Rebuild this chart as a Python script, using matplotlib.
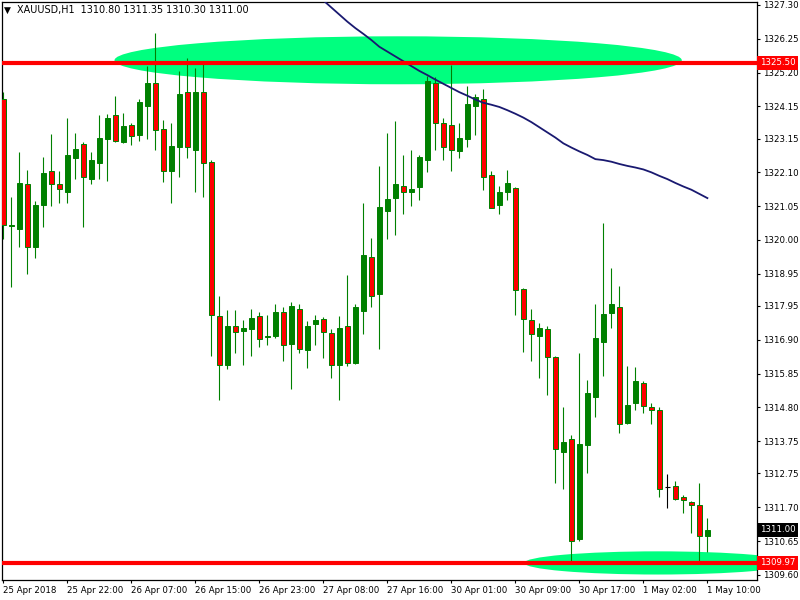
import matplotlib
matplotlib.use("Agg")
import matplotlib.pyplot as plt
import matplotlib.transforms as mtransforms
from matplotlib.patches import Ellipse
import numpy as np

# XAUUSD H1
time_labels = ["25 Apr 2018", "25 Apr 22:00", "26 Apr 07:00", "26 Apr 15:00",
               "26 Apr 23:00", "27 Apr 08:00", "27 Apr 16:00", "30 Apr 01:00",
               "30 Apr 09:00", "30 Apr 17:00", "1 May 02:00", "1 May 10:00"]

opens = [1324.37, 1320.43, 1320.35, 1321.74, 1319.77, 1321.09, 1322.14, 1321.74, 1321.50, 1322.56,
         1322.98, 1321.90, 1322.39, 1323.12, 1323.88, 1323.05, 1323.56, 1323.27, 1324.17, 1324.88,
         1323.46, 1322.15, 1322.88, 1324.59, 1322.80, 1324.59, 1322.42, 1317.64, 1316.13, 1317.33,
         1317.18, 1317.24, 1317.64, 1316.99, 1317.01, 1317.75, 1316.76, 1317.85, 1316.59, 1317.39,
         1317.56, 1317.10, 1316.13, 1317.33, 1316.18, 1317.79, 1319.46, 1318.31, 1320.90, 1321.30,
         1321.67, 1321.50, 1321.65, 1322.49, 1324.87, 1323.62, 1323.57, 1322.77, 1323.12, 1324.17,
         1324.37, 1322.01, 1321.09, 1321.50, 1321.61, 1318.48, 1317.51, 1317.02, 1317.25, 1316.36,
         1313.42, 1313.83, 1310.70, 1313.63, 1315.12, 1316.83, 1317.74, 1317.93, 1314.31, 1314.94,
         1315.55, 1314.80, 1314.73, 1312.33, 1312.36, 1312.02, 1311.87, 1311.78, 1310.80]
highs = [1324.58, 1321.32, 1322.74, 1322.16, 1321.21, 1322.59, 1323.29, 1322.14, 1323.79, 1323.31,
         1323.05, 1322.74, 1323.89, 1323.91, 1324.46, 1323.95, 1323.64, 1324.37, 1325.41, 1326.42,
         1323.72, 1323.62, 1325.25, 1325.65, 1325.35, 1325.48, 1322.47, 1318.25, 1317.82, 1317.82,
         1317.51, 1317.85, 1317.76, 1317.68, 1318.00, 1317.93, 1318.07, 1318.00, 1317.47, 1317.68,
         1317.62, 1317.25, 1317.64, 1318.91, 1318.00, 1321.16, 1320.06, 1322.31, 1323.31, 1323.69,
         1322.65, 1322.80, 1322.65, 1325.10, 1325.06, 1323.80, 1325.44, 1323.62, 1324.79, 1324.52,
         1324.68, 1322.14, 1321.67, 1322.16, 1321.65, 1318.50, 1317.85, 1317.43, 1317.33, 1316.39,
         1314.80, 1313.94, 1316.50, 1315.64, 1318.00, 1320.52, 1319.12, 1318.56, 1316.10, 1316.05,
         1315.61, 1314.95, 1314.82, 1312.73, 1312.53, 1312.07, 1311.89, 1312.45, 1311.35]
lows = [1320.04, 1318.54, 1319.77, 1318.94, 1319.44, 1320.40, 1321.05, 1321.15, 1321.15, 1321.90,
        1320.40, 1321.73, 1321.90, 1321.82, 1323.03, 1323.02, 1322.95, 1323.06, 1323.14, 1322.80,
        1321.81, 1321.15, 1321.96, 1322.56, 1321.50, 1321.34, 1316.41, 1315.03, 1315.98, 1316.49,
        1316.13, 1316.41, 1316.67, 1316.74, 1316.97, 1316.24, 1315.38, 1316.50, 1316.01, 1316.74,
        1316.32, 1315.70, 1315.03, 1316.09, 1316.16, 1317.08, 1317.91, 1316.61, 1320.04, 1320.15,
        1320.81, 1321.05, 1321.24, 1322.11, 1322.80, 1322.49, 1322.14, 1322.56, 1322.88, 1323.26,
        1321.55, 1320.98, 1320.81, 1321.23, 1317.67, 1316.52, 1316.24, 1315.72, 1315.18, 1312.45,
        1312.27, 1309.99, 1310.64, 1312.76, 1314.51, 1315.78, 1317.28, 1314.00, 1314.29, 1314.71,
        1314.63, 1314.29, 1312.02, 1311.67, 1311.93, 1311.52, 1310.89, 1309.99, 1310.30]
closes = [1320.46, 1320.45, 1321.76, 1319.77, 1321.09, 1322.08, 1321.73, 1321.57, 1322.64, 1322.82,
          1321.96, 1322.47, 1323.16, 1323.79, 1323.06, 1323.53, 1323.22, 1324.28, 1324.88, 1323.43,
          1322.15, 1322.91, 1324.53, 1322.88, 1324.59, 1322.38, 1317.67, 1316.13, 1317.33, 1317.15,
          1317.28, 1317.59, 1316.91, 1317.01, 1317.76, 1316.75, 1317.94, 1316.62, 1317.33, 1317.51,
          1317.14, 1316.13, 1317.28, 1316.18, 1317.91, 1319.52, 1318.25, 1321.01, 1321.27, 1321.74,
          1321.50, 1321.59, 1322.59, 1324.95, 1323.62, 1322.88, 1322.79, 1323.16, 1324.22, 1324.44,
          1321.96, 1321.00, 1321.49, 1321.76, 1318.45, 1317.56, 1317.09, 1317.28, 1316.38, 1313.51,
          1313.73, 1310.66, 1313.65, 1315.24, 1316.94, 1317.69, 1318.00, 1314.29, 1314.89, 1315.61,
          1314.83, 1314.73, 1312.27, 1312.33, 1311.96, 1311.93, 1311.78, 1310.80, 1311.00]

# moyenne mobile (visible a partir de la barre 39)
ma_first_bar = 39
ma_values = [1327.66, 1327.44, 1327.22, 1327.00, 1326.78, 1326.58, 1326.40, 1326.21, 1326.00, 1325.85,
             1325.70, 1325.55, 1325.40, 1325.25, 1325.12, 1324.98, 1324.85, 1324.72, 1324.59, 1324.48,
             1324.36, 1324.26, 1324.20, 1324.13, 1324.03, 1323.92, 1323.80, 1323.66, 1323.50, 1323.34,
             1323.18, 1323.00, 1322.87, 1322.75, 1322.64, 1322.51, 1322.48, 1322.43, 1322.36, 1322.30,
             1322.25, 1322.19, 1322.10, 1321.99, 1321.89, 1321.77, 1321.66, 1321.56, 1321.43, 1321.30]

price_labels = ["1327.30", "1326.25", "1325.20", "1324.15", "1323.15", "1322.10", "1321.05",
                "1320.00", "1318.95", "1317.95", "1316.90", "1315.85", "1314.80", "1313.75",
                "1312.75", "1311.70", "1310.65", "1309.60"]

level_high = 1325.50
level_low = 1309.97
last_price = 1311.00

# zones (ellipses) : barre de debut, barre de fin, prix centre, hauteur en prix
zone_high = (13.9, 84.8, 1325.58, 1.49)
zone_low = (65.1, 98.5, 1309.97, 0.72)

title = "XAUUSD,H1  1310.80 1311.35 1310.30 1311.00"

plt.rcParams["font.family"] = ["DejaVu Sans"]
FS = 6.2

fig = plt.figure(figsize=(8, 6), dpi=100)
ax = fig.add_axes([2 / 800, 20 / 600, 755 / 800, 578 / 600])

x = np.arange(len(opens))
o = np.array(opens)
c = np.array(closes)
h = np.array(highs)
l = np.array(lows)

# ellipses en fond
for z in (zone_high, zone_low):
    e = Ellipse(((z[0] + z[1]) / 2, z[2]), z[1] - z[0], z[3],
                facecolor="#00ff7f", edgecolor="none", zorder=1)
    ax.add_patch(e)

# meches
wick_col = ["black" if oo == cc else "green" for oo, cc in zip(o, c)]
ax.vlines(x, l, h, colors=wick_col, linewidth=0.8, zorder=2)

# corps des bougies
body_low = np.minimum(o, c)
body_h = np.maximum(np.abs(c - o), 0.04)
up = c > o
down = c < o
ax.bar(x[up], body_h[up], bottom=body_low[up], width=0.62,
       color="green", edgecolor="green", linewidth=0.7, zorder=3)
ax.bar(x[down], body_h[down], bottom=body_low[down], width=0.62,
       color="red", edgecolor="green", linewidth=0.7, zorder=3)
flat = c == o
ax.hlines(o[flat], x[flat] - 0.35, x[flat] + 0.35, colors="black", linewidth=0.8, zorder=3)

# moyenne mobile
ma_x = np.arange(ma_first_bar, ma_first_bar + len(ma_values))
ax.plot(ma_x, ma_values, color="#191970", linewidth=1.3, zorder=4)

# niveaux horizontaux
ax.axhline(level_high, color="red", linewidth=3, zorder=5)
ax.axhline(level_low, color="red", linewidth=3, zorder=5)

ax.set_xlim(-0.16, 94.2)
ax.set_ylim(1309.44, 1327.39)

ax.yaxis.tick_right()
ax.set_yticks([float(v) for v in price_labels])
ax.set_yticklabels(price_labels)
ax.set_xticks(x[::8])
ax.set_xticklabels(time_labels, ha="left")
ax.tick_params(axis="both", labelsize=FS, length=2.5, width=0.8, color="black", direction="out")
ax.tick_params(axis="y", pad=2)
ax.tick_params(axis="x", pad=2)
for s in ax.spines.values():
    s.set_linewidth(0.9)
    s.set_color("black")

# etiquettes de prix sur l'axe droit
trans = mtransforms.blended_transform_factory(ax.transAxes, ax.transData)
for val, bg in ((level_high, "red"), (level_low, "red"), (last_price, "black")):
    ax.text(1.004, val, f"{val:.2f}", transform=trans, ha="left", va="center",
            fontsize=FS, color="white", clip_on=False, zorder=6,
            bbox=dict(boxstyle="square,pad=0.3", facecolor=bg, edgecolor="none"))

fig.text(4 / 800, 1 - 10 / 600, "\u25bc", fontsize=6.5, va="center", ha="left")
fig.text(17 / 800, 1 - 10 / 600, title, fontsize=6.9, va="center", ha="left")

fig.savefig("out.png", dpi=100)
